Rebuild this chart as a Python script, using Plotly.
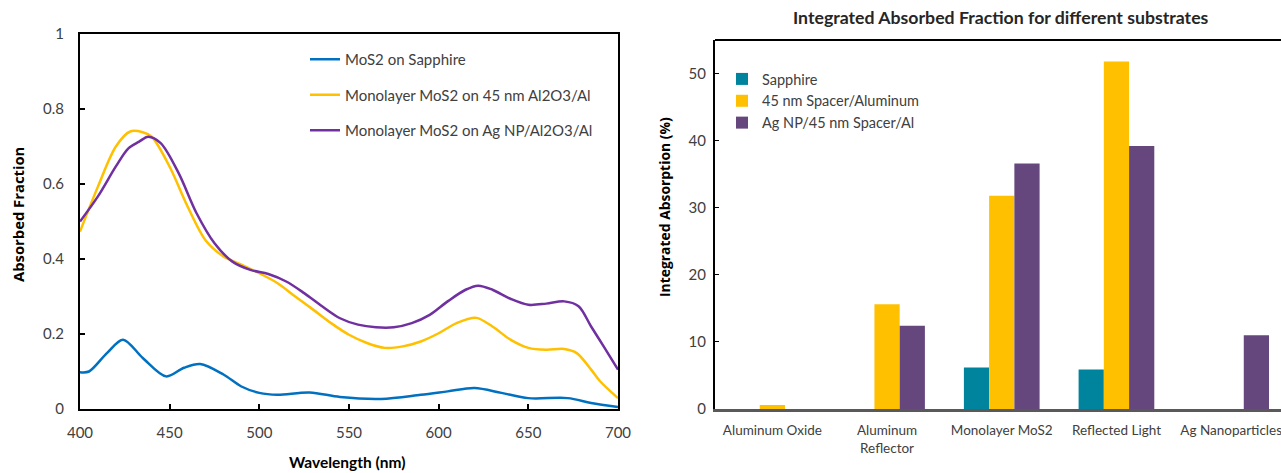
import plotly.graph_objects as go

# ---------------- Left chart data (absorbed fraction spectra) ----------------
wl_blue = [400, 405, 415, 424, 435, 448, 458, 467, 480, 490, 500, 510, 528, 545, 568, 590, 605, 620, 635, 650, 672, 685, 700]
abs_sapphire = [0.098, 0.100, 0.149, 0.185, 0.136, 0.087, 0.110, 0.120, 0.092, 0.060, 0.043, 0.038, 0.044, 0.032, 0.027, 0.038, 0.047, 0.056, 0.043, 0.029, 0.029, 0.016, 0.005]

wl_yellow = [400, 410, 420, 428, 435, 440, 450, 460, 470, 480, 490, 500, 510, 520, 530, 540, 550, 560, 570, 580, 590, 600, 610, 621, 630, 640, 650, 660, 670, 677, 685, 690, 700]
abs_spacer = [0.473, 0.593, 0.700, 0.740, 0.738, 0.726, 0.646, 0.540, 0.450, 0.407, 0.385, 0.362, 0.336, 0.300, 0.265, 0.229, 0.198, 0.176, 0.163, 0.167, 0.180, 0.202, 0.229, 0.243, 0.220, 0.185, 0.163, 0.158, 0.160, 0.149, 0.105, 0.074, 0.029]

wl_purple = [400, 410, 420, 427, 433, 438, 445, 455, 465, 475, 485, 495, 505, 515, 525, 535, 545, 555, 565, 575, 585, 595, 605, 615, 622, 630, 640, 650, 660, 670, 678, 685, 692, 700]
abs_agnp = [0.500, 0.567, 0.647, 0.695, 0.713, 0.726, 0.709, 0.629, 0.522, 0.442, 0.393, 0.371, 0.360, 0.340, 0.309, 0.274, 0.242, 0.225, 0.218, 0.218, 0.229, 0.251, 0.287, 0.318, 0.329, 0.318, 0.294, 0.278, 0.281, 0.287, 0.274, 0.220, 0.167, 0.105]

line_names = ["MoS2 on Sapphire", "Monolayer MoS2 on 45 nm Al2O3/Al", "Monolayer MoS2 on Ag NP/Al2O3/Al"]

# ---------------- Right chart data (integrated absorption) ----------------
categories = ["Aluminum Oxide", "Aluminum<br>Reflector", "Monolayer MoS2", "Reflected Light", "Ag Nanoparticles"]
bar_names = ["Sapphire", "45 nm Spacer/Aluminum", "Ag NP/45 nm Spacer/Al"]
val_sapphire = [0, 0, 6.2, 5.9, 0]
val_spacer = [0.6, 15.6, 31.8, 51.8, 0]
val_agnp = [0, 12.4, 36.6, 39.2, 11.0]

FONT = "Lato"
TXT = "#404040"

fig = go.Figure()

line_colors = ["#0070C0", "#FFC000", "#7030A0"]
for i, (x, y) in enumerate([(wl_blue, abs_sapphire), (wl_yellow, abs_spacer), (wl_purple, abs_agnp)]):
    fig.add_trace(go.Scatter(
        x=x, y=y, mode="lines", name=line_names[i],
        line=dict(color=line_colors[i], width=2.5, shape="spline", smoothing=0.9),
        xaxis="x", yaxis="y", legend="legend", legendgroup=f"g{i}",
    ))

bar_colors = ["#00849E", "#FFC000", "#66477D"]
for i, vals in enumerate([val_sapphire, val_spacer, val_agnp]):
    fig.add_trace(go.Bar(
        x=categories, y=vals, name=bar_names[i],
        marker=dict(color=bar_colors[i], line=dict(width=0)),
        xaxis="x2", yaxis="y2", legend="legend2",
    ))

W, H = 1281, 473
fig.update_layout(
    width=W, height=H,
    margin=dict(l=0, r=0, t=0, b=0, autoexpand=False),
    paper_bgcolor="white", plot_bgcolor="white",
    font=dict(family=FONT, size=15, color=TXT),
    barmode="group", bargap=0.34, bargroupgap=0,
    xaxis=dict(
        domain=[80 / W, 618 / W], range=[400, 700], tickvals=[400, 450, 500, 550, 600, 650, 700],
        showline=True, linecolor="black", linewidth=2, mirror=True,
        ticks="inside", ticklen=5, tickcolor="black", tickwidth=1.5,
        showgrid=False, zeroline=False, tickfont=dict(size=15, color=TXT),
        ticklabelstandoff=9, automargin=False, anchor="y",
    ),
    yaxis=dict(
        domain=[1 - 409 / H, 1 - 34 / H], range=[0, 1], tickvals=[0, 0.2, 0.4, 0.6, 0.8, 1],
        showline=True, linecolor="black", linewidth=2, mirror=True,
        ticks="inside", ticklen=5, tickcolor="black", tickwidth=1.5,
        showgrid=False, zeroline=False, tickfont=dict(size=15, color=TXT),
        ticklabelstandoff=11, automargin=False, anchor="x",
    ),
    xaxis2=dict(
        domain=[715 / W, 1.0], range=[-0.5, -0.5 + 566 / 114.7],
        showline=True, linecolor="#595959", linewidth=2.5, mirror=False,
        ticks="", showgrid=False, zeroline=False, tickfont=dict(size=13.5, color=TXT),
        ticklabelstandoff=7, automargin=False, anchor="y2", type="category",
    ),
    yaxis2=dict(
        domain=[1 - 409 / H, 1 - 40 / H], range=[0, 55], tickvals=[0, 10, 20, 30, 40, 50],
        showline=True, linecolor="black", linewidth=2, mirror=False,
        ticks="inside", ticklen=4, tickcolor="black", tickwidth=1,
        showgrid=False, zeroline=False, tickfont=dict(size=15, color=TXT),
        ticklabelstandoff=4, automargin=False, anchor="x2",
    ),
    legend=dict(
        x=305 / W, y=1 - 43 / H, xanchor="left", yanchor="top",
        bgcolor="rgba(0,0,0,0)", font=dict(size=15, color=TXT),
        tracegroupgap=13, traceorder="grouped",
    ),
    legend2=dict(
        x=722 / W, y=1 - 63 / H, xanchor="left", yanchor="top",
        bgcolor="rgba(0,0,0,0)", font=dict(size=14.5, color=TXT),
        itemwidth=30, traceorder="normal", tracegroupgap=0,
    ),
    showlegend=True,
)

# top border of the right chart
fig.add_shape(type="line", xref="paper", yref="paper", x0=715 / W, x1=1.0, y0=1 - 40 / H, y1=1 - 40 / H,
              line=dict(color="black", width=2))

# titles
fig.add_annotation(
    text="Integrated Absorbed Fraction for different substrates", xref="paper", yref="paper",
    x=1001 / W, y=1 - 18 / H, xanchor="center", yanchor="middle", showarrow=False,
    font=dict(size=17.7, color="#262626", weight="bold"),
)
fig.add_annotation(
    text="Wavelength (nm)", xref="paper", yref="paper",
    x=347 / W, y=1 - 462 / H, xanchor="center", yanchor="middle", showarrow=False,
    font=dict(size=15.5, color="black", weight="bold"),
)
fig.add_annotation(
    text="Absorbed Fraction", xref="paper", yref="paper", textangle=-90,
    x=18 / W, y=1 - 215 / H, xanchor="center", yanchor="middle", showarrow=False,
    font=dict(family="Open Sans", size=14.8, color="black", weight="bold"),
)
fig.add_annotation(
    text="Integrated Absorption (%)", xref="paper", yref="paper", textangle=-90,
    x=664 / W, y=1 - 207 / H, xanchor="center", yanchor="middle", showarrow=False,
    font=dict(family="Open Sans", size=13.9, color="black", weight="bold"),
)

fig.write_html("out.html")
